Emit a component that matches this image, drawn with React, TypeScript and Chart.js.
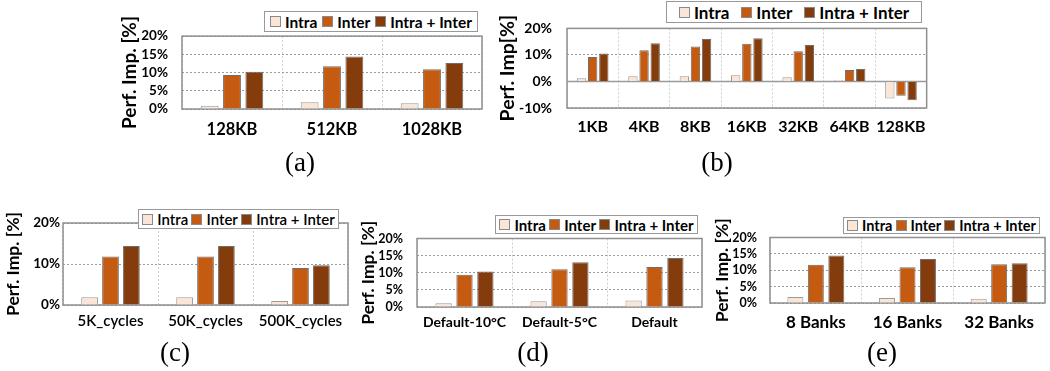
import React, { useEffect, useRef } from "react";
import { Chart, registerables } from "chart.js";

Chart.register(...registerables);
Chart.defaults.color = "#000";

// ---------- data ----------
const seriesNames = ["Intra", "Inter", "Intra + Inter"];

const catsA = ["128KB", "512KB", "1028KB"];
const intraA = [0.9, 1.85, 1.6];
const interA = [9.35, 11.7, 10.9];
const bothA = [10.2, 14.4, 12.6];

const catsB = ["1KB", "4KB", "8KB", "16KB", "32KB", "64KB", "128KB"];
const intraB = [1.2, 2.0, 2.0, 2.3, 1.6, 0.5, -6.4];
const interB = [9.2, 11.8, 13.2, 14.2, 11.4, 4.3, -5.4];
const bothB = [10.5, 14.4, 16.0, 16.3, 13.7, 4.7, -7.1];

const catsC = ["5K_cycles", "50K_cycles", "500K_cycles"];
const intraC = [1.9, 1.9, 1.0];
const interC = [11.8, 11.8, 9.0];
const bothC = [14.4, 14.4, 9.7];

const catsD = ["Default-10°C", "Default-5°C", "Default"];
const intraD = [1.1, 1.7, 1.9];
const interD = [9.4, 11.0, 11.7];
const bothD = [10.4, 13.05, 14.3];

const catsE = ["8 Banks", "16 Banks", "32 Banks"];
const intraE = [1.8, 1.5, 1.3];
const interE = [11.7, 10.9, 11.8];
const bothE = [14.5, 13.4, 12.1];

const colors = ["#fbe5d6", "#c55a11", "#843c0c"];
const FONT = "Lato, 'Open Sans', sans-serif";

type PanelSpec = {
  cats: string[];
  vals: number[][];
  plot: [number, number, number, number];
  titleX: number;
  yTitle: string;
  titleSize: number;
  yMin: number;
  yMax: number;
  step: number;
  yTickSize: number;
  yTickPad: number;
  xTickSize: number;
  xTickPad: number;
  xWeight: string;
  legend: [number, number, number, number];
  legendSize: number;
  legendWeight: string;
  caption: string;
  capX: number;
  capY: number;
  cp: number;
  bp: number;
};

const panels: PanelSpec[] = [
  {
    cats: catsA, vals: [intraA, interA, bothA], plot: [182, 26, 482, 109], titleX: 129,
    yTitle: "Perf. Imp. [%]", titleSize: 19, yMin: 0, yMax: 20, step: 5, yTickSize: 13.5, yTickPad: 14,
    xTickSize: 16.5, xTickPad: 11, xWeight: "bold", legend: [264, 11, 478, 32], legendSize: 15.5, legendWeight: "bold",
    caption: "(a)", capX: 300, capY: 162, cp: 0.67, bp: 0.8,
  },
  {
    cats: catsB, vals: [intraB, interB, bothB], plot: [567, 17, 930, 108], titleX: 508,
    yTitle: "Perf. Imp[%]", titleSize: 19.5, yMin: -10, yMax: 20, step: 10, yTickSize: 14, yTickPad: 15,
    xTickSize: 16, xTickPad: 9, xWeight: "bold", legend: [666, 1, 922, 23], legendSize: 17, legendWeight: "bold",
    caption: "(b)", capX: 717, capY: 162, cp: 0.65, bp: 0.84,
  },
  {
    cats: catsC, vals: [intraC, interC, bothC], plot: [63, 223, 348, 305], titleX: 13,
    yTitle: "Perf. Imp. [%]", titleSize: 17.5, yMin: 0, yMax: 20, step: 10, yTickSize: 13.5, yTickPad: 3,
    xTickSize: 15, xTickPad: 7, xWeight: "600", legend: [138, 209, 339, 229], legendSize: 15, legendWeight: "600",
    caption: "(c)", capX: 175, capY: 352, cp: 0.66, bp: 0.8,
  },
  {
    cats: catsD, vals: [intraD, interD, bothD], plot: [417, 229, 702, 307], titleX: 368,
    yTitle: "Perf. Imp. [%]", titleSize: 17.5, yMin: 0, yMax: 20, step: 5, yTickSize: 12.5, yTickPad: 14,
    xTickSize: 14, xTickPad: 7.5, xWeight: "bold", legend: [495, 215, 698, 234], legendSize: 15, legendWeight: "bold",
    caption: "(d)", capX: 533, capY: 352, cp: 0.66, bp: 0.78,
  },
  {
    cats: catsE, vals: [intraE, interE, bothE], plot: [770, 229, 1045, 303], titleX: 722,
    yTitle: "Perf. Imp. [%]", titleSize: 17.5, yMin: 0, yMax: 20, step: 5, yTickSize: 12.5, yTickPad: 13,
    xTickSize: 17, xTickPad: 9, xWeight: "bold", legend: [843, 217, 1040, 234], legendSize: 14.5, legendWeight: "bold",
    caption: "(e)", capX: 882, capY: 352, cp: 0.67, bp: 0.78,
  },
];

const framePlugin = {
  id: "frame",
  beforeDatasetsDraw(chart: any) {
    const { ctx, chartArea } = chart;
    const { left, top, right, bottom } = chartArea;
    ctx.save();
    ctx.strokeStyle = "#8f8f8f";
    ctx.lineWidth = 1.5;
    ctx.strokeRect(left, top, right - left, bottom - top);
    const y0 = chart.scales.y.getPixelForValue(0);
    if (y0 > top + 2 && y0 < bottom - 2) {
      ctx.strokeStyle = "#9a9a9a";
      ctx.lineWidth = 1.5;
      ctx.beginPath();
      ctx.moveTo(left, y0);
      ctx.lineTo(right, y0);
      ctx.stroke();
    }
    ctx.restore();
  },
};

const PAD_TOP = 12;
const PAD_RIGHT = 5;
const X_AXIS_H = 40;

function Panel({ p }: { p: PanelSpec }) {
  const ref = useRef<HTMLCanvasElement>(null);
  const [L, T, R, B] = p.plot;
  const cLeft = Math.round(p.titleX - p.titleSize * 0.6);
  const cTop = T - PAD_TOP;
  const cW = R + PAD_RIGHT - cLeft;
  const cH = B + X_AXIS_H - cTop;

  useEffect(() => {
    if (!ref.current) return;
    const chart = new Chart(ref.current, {
      type: "bar",
      data: {
        labels: p.cats,
        datasets: p.vals.map((v, i) => ({
          label: seriesNames[i],
          data: v,
          backgroundColor: colors[i],
          borderColor: i === 0 ? "#9a9a9a" : "#6e6e6e",
          borderWidth: 1,
          categoryPercentage: p.cp,
          barPercentage: p.bp,
        })),
      },
      options: {
        animation: false,
        responsive: true,
        maintainAspectRatio: false,
        layout: { padding: { top: PAD_TOP, right: PAD_RIGHT, left: 0, bottom: 0 } },
        plugins: { legend: { display: false }, tooltip: { enabled: false } },
        scales: {
          x: {
            grid: { display: true, offset: true, color: "#cfcfcf", lineWidth: 1, drawTicks: false },
            border: { display: false, dash: [2, 2] },
            ticks: {
              font: { family: FONT, size: p.xTickSize, weight: p.xWeight as any },
              padding: p.xTickPad,
              color: "#000",
              maxRotation: 0,
              autoSkip: false,
            },
            afterFit: (s: any) => {
              s.height = X_AXIS_H;
            },
          },
          y: {
            min: p.yMin,
            max: p.yMax,
            grid: { color: "#9a9a9a", lineWidth: 1, drawTicks: false },
            border: { display: false, dash: [2, 2] },
            ticks: {
              stepSize: p.step,
              autoSkip: false,
              font: { family: FONT, size: p.yTickSize, weight: "bold" },
              padding: p.yTickPad,
              color: "#000",
              callback: (v: any) => v + "%",
            },
            title: {
              display: true,
              text: p.yTitle,
              color: "#000",
              font: { family: FONT, size: p.titleSize, weight: "bold", lineHeight: 1.2 },
              padding: { top: 0, bottom: 0 },
            },
            afterFit: (s: any) => {
              s.width = L - cLeft;
            },
          },
        },
      },
      plugins: [framePlugin],
    });
    return () => chart.destroy();
  }, []);

  const [lL, lT, lR, lB] = p.legend;
  return (
    <>
      <div style={{ position: "absolute", left: cLeft, top: cTop, width: cW, height: cH }}>
        <canvas ref={ref} />
      </div>
      <div
        style={{
          position: "absolute",
          left: lL,
          top: lT,
          width: lR - lL,
          height: lB - lT,
          boxSizing: "border-box",
          border: "1.5px solid #999",
          background: "#fff",
          display: "flex",
          alignItems: "center",
          justifyContent: "space-evenly",
          fontFamily: FONT,
          fontWeight: p.legendWeight as any,
          fontSize: p.legendSize,
          color: "#000",
          whiteSpace: "nowrap",
        }}
      >
        {seriesNames.map((n, i) => (
          <span key={n} style={{ display: "flex", alignItems: "center" }}>
            <span
              style={{
                display: "inline-block",
                width: 9,
                height: 9,
                background: colors[i],
                border: "1px solid #8a8a8a",
                marginRight: 4,
              }}
            />
            <span>{n}</span>
          </span>
        ))}
      </div>
      <div
        style={{
          position: "absolute",
          left: p.capX,
          top: p.capY,
          transform: "translate(-50%, -50%)",
          fontFamily: "'Liberation Serif', serif",
          fontSize: 27,
          color: "#000",
          whiteSpace: "nowrap",
        }}
      >
        {p.caption}
      </div>
    </>
  );
}

export default function App() {
  return (
    <div style={{ position: "absolute", left: 0, top: 0, width: 1050, height: 371, background: "#fff", overflow: "hidden" }}>
      {panels.map((p, i) => (
        <Panel key={i} p={p} />
      ))}
    </div>
  );
}
